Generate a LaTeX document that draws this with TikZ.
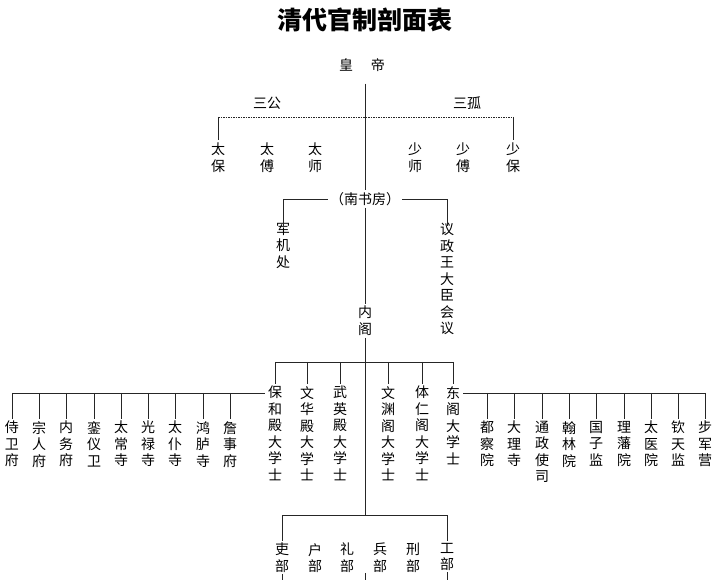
\documentclass[tikz,border=0pt]{standalone}
\usepackage{fontspec}
\setmainfont{Noto Sans CJK SC}
\begin{document}
\begin{tikzpicture}[x=1pt, y=-1pt,
    col/.style={align=center, inner sep=0pt, anchor=north,
      font=\fontsize{14}{16.5}\selectfont},
    lbl/.style={inner sep=1pt, font=\fontsize{14}{16.5}\selectfont},
    wire/.style={line width=0.6pt, draw=black!85}]
  \useasboundingbox (0,0) rectangle (716,580);
  \node [font=\fontsize{25}{25}\selectfont\bfseries] (title) at
  (365,20) {清代官制剖面表};
  \node [lbl] (emp) at (362,65) {皇\hspace{18pt}帝};
  \node [lbl] (sangong) at (267,103) {三公}; \node [lbl] (sangu) at
  (467,103) {三孤};
  \node [lbl, inner sep=0pt] (nsf) at (365,199) {（南书房）};

  % coordinates of the rows
  \coordinate (gtop) at (0,117); \coordinate (dxs) at (0,362);
  \coordinate (lrow) at (0,393); \coordinate (lb) at (0,515);
  \coordinate (bot) at (0,580);

  \begin{scope}[every node/.style={col}]
    \node (taibao) at (218,143) {太\\保}; \node (taifu) at
    (267,143) {太\\傅}; \node (taishi) at (315,143) {太\\师};
    \node (shaoshi) at (415,143) {少\\师}; \node (shaofu) at
    (463,143) {少\\傅}; \node (shaobao) at (513,143) {少\\保};
    \node (junji) at (283,223) {军\\机\\处}; \node (yizheng) at
    (447,223) {议\\政\\王\\大\\臣\\会\\议}; \node (neige) at
    (365,306) {内\\阁};
    % 大学士
    \node (baohe) at (275,386) {保\\和\\殿\\大\\学\\士}; \node
    (wenhua) at (307,386) {文\\华\\殿\\大\\学\\士}; \node (wuying)
    at (340,386) {武\\英\\殿\\大\\学\\士}; \node (wenyuan) at
    (388,386) {文\\渊\\阁\\大\\学\\士}; \node (tiren) at
    (422,386) {体\\仁\\阁\\大\\学\\士}; \node (dongge) at
    (453,386) {东\\阁\\大\\学\\士};
    % left
    \node (shiwei) at (12,421) {侍\\卫\\府}; \node (zongren) at
    (39,421) {宗\\人\\府}; \node (neiwu) at (66,421) {内\\务\\府};
    \node (luanyi) at (94,421) {銮\\仪\\卫}; \node (taichang) at
    (121,421) {太\\常\\寺}; \node (guanglu) at (148,421)
    {光\\禄\\寺}; \node (taipu) at (175,421) {太\\仆\\寺}; \node
    (honglu) at (203,421) {鸿\\胪\\寺}; \node (zhanshi) at
    (230,421) {詹\\事\\府};
    % right
    \node (ducha) at (487,421) {都\\察\\院}; \node (dali) at
    (514,421) {大\\理\\寺}; \node (tongzheng) at (542,421)
    {通\\政\\使\\司}; \node (hanlin) at (569,421) {翰\\林\\院};
    \node (guozi) at (596,421) {国\\子\\监}; \node (lifan) at
    (624,421) {理\\藩\\院}; \node (taiyi) at (651,421)
    {太\\医\\院}; \node (qintian) at (678,421) {钦\\天\\监}; \node
    (bujun) at (705,421) {步\\军\\营};
    % 六部
    \node (libu) at (282,543) {吏\\部}; \node (hubu) at (315,543)
    {户\\部}; \node (lbu) at (347,543) {礼\\部}; \node (bingbu) at
    (380,543) {兵\\部}; \node (xingbu) at (413,543) {刑\\部};
    \node (gongbu) at (447,543) {工\\部};
  \end{scope}

  \begin{scope}[wire]
    \draw [dash pattern=on 1.5pt off 1pt] (gtop -| taibao) -- (gtop
    -| shaobao); \draw [shorten >=3pt] (gtop -| taibao) --
    (taibao.north); \draw [shorten >=3pt] (gtop -| shaobao) --
    (shaobao.north);
    \draw [shorten <=11pt, shorten >=2pt] (emp.south -| nsf) --
    (nsf.north); \draw [shorten <=2pt, shorten >=2pt] (nsf.south) --
    (neige.north); \draw [shorten <=2pt] (neige.south) -- (lb -|
    neige); \draw (libu.south -| neige) -- (bot -| neige);
    \draw [shorten <=2pt] (nsf.west) -- (nsf.west -| junji) --
    ([yshift=-3pt]junji.north); \draw [shorten <=2pt] (nsf.east) --
    (nsf.east -| yizheng) -- ([yshift=-3pt]yizheng.north);
    \draw (dxs -| baohe) -- (dxs -| dongge);
    \foreach \n in {baohe, wenhua, wuying, wenyuan, tiren, dongge}
    \draw [shorten >=2pt] (dxs -| \n) -- (\n.north);
    \draw (lrow -| shiwei) -- ([xshift=-3pt]lrow -| baohe.west);
    \foreach \n in {shiwei, zongren, neiwu, luanyi, taichang, guanglu,
      taipu, honglu, zhanshi} \draw [shorten >=2pt] (lrow -| \n) --
    (\n.north);
    \draw ([xshift=3pt]lrow -| dongge.east) -- (lrow -| bujun);
    \foreach \n in {ducha, dali, tongzheng, hanlin, guozi, lifan,
      taiyi, qintian, bujun} \draw [shorten >=2pt] (lrow -| \n) --
    (\n.north);
    \draw (lb -| libu) -- (lb -| gongbu); \draw [shorten >=2pt] (lb -|
    libu) -- (libu.north); \draw [shorten >=2pt] (lb -| gongbu) --
    (gongbu.north); \draw [shorten <=1pt] (libu.south) -- (bot -|
    libu); \draw [shorten <=1pt] (gongbu.south) -- (bot -| gongbu);
  \end{scope}
\end{tikzpicture}
\end{document}
